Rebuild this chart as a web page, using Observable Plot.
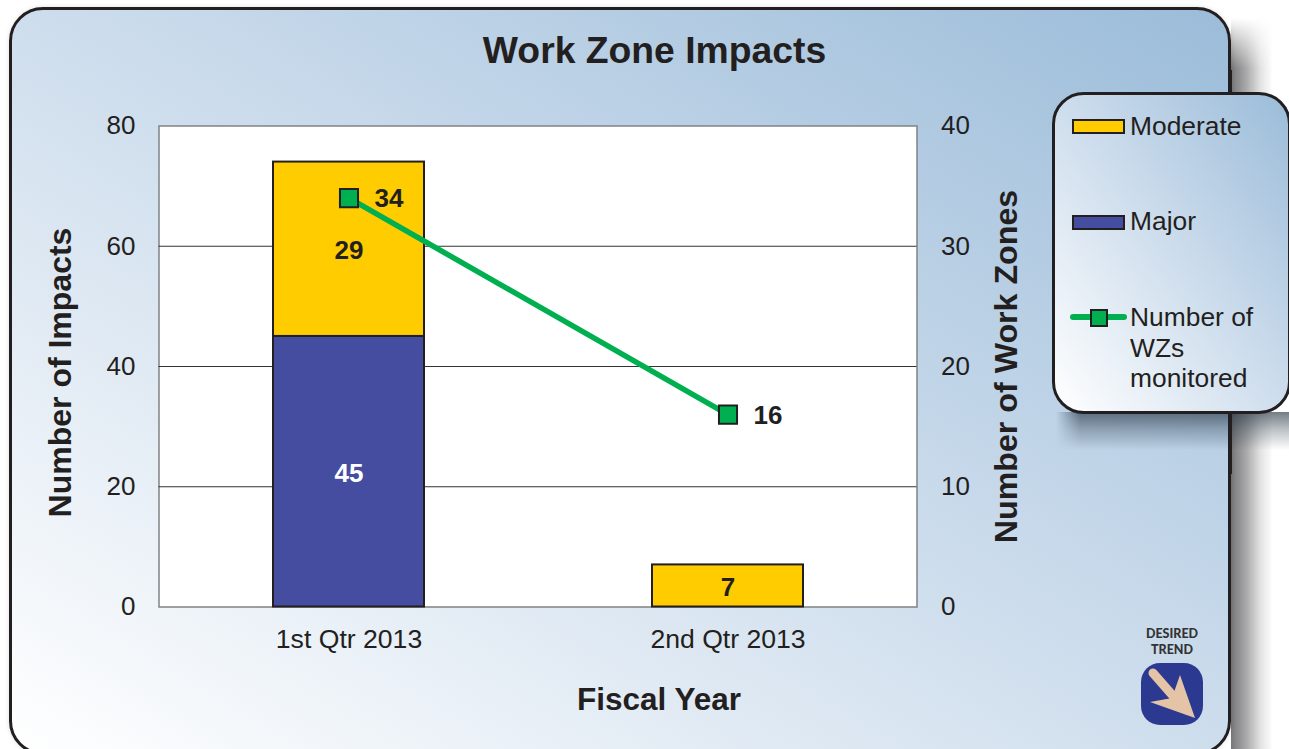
<!DOCTYPE html>
<html>
<head>
<meta charset="utf-8">
<script src="https://cdn.jsdelivr.net/npm/d3@7"></script>
<script src="https://cdn.jsdelivr.net/npm/@observablehq/plot@0.6"></script>
<style>
html,body{margin:0;padding:0;background:#fff;width:1289px;height:749px;overflow:hidden;font-family:"Liberation Sans",Arial,sans-serif;color:#231f20}
#stage{position:relative;width:1289px;height:749px;overflow:hidden}
#panel{position:absolute;left:9px;top:7px;width:1222px;height:748px;box-sizing:border-box;border:3px solid #231f20;border-radius:34px;
 background:linear-gradient(to top right,#ffffff 0%,#c9daeb 55%,#9bbcd9 100%);box-shadow:0 0 5px rgba(0,0,0,.12)}
#shadowR{position:absolute;left:1231px;top:18px;width:42px;height:731px;
 background:linear-gradient(to right,rgba(55,55,58,.68),rgba(55,55,58,.44) 35%,rgba(55,55,58,.14) 70%,rgba(55,55,58,0));
 -webkit-mask-image:linear-gradient(to bottom,transparent,#000 50px);mask-image:linear-gradient(to bottom,transparent,#000 50px)}
#edge{position:absolute;left:1228px;top:70px;width:4px;height:404px;background:#231f20}
#title{position:absolute;left:10px;top:28px;width:1289px;text-align:center;font-weight:bold;font-size:37.3px;line-height:44px}
#chart{position:absolute;left:0;top:0}
#shadowL{position:absolute;left:1056px;top:412px;width:233px;height:38px;
 background:linear-gradient(to bottom,rgba(30,45,60,.62),rgba(30,45,60,.3) 45%,rgba(30,45,60,0));
 -webkit-mask-image:linear-gradient(to right,transparent,#000 24px);mask-image:linear-gradient(to right,transparent,#000 24px)}
#legend{position:absolute;left:1052px;top:92px;width:239px;height:322px;box-sizing:border-box;border:3px solid #231f20;border-radius:32px;
 background:linear-gradient(to top right,#ffffff 0%,#c9daeb 55%,#9bbcd9 100%)}
.sw{position:absolute;left:1072px;width:53px;height:15px;box-sizing:border-box;border:2px solid #231f20}
.lt{position:absolute;left:1130px;font-size:26.4px;line-height:30.6px;white-space:pre}
#ln{position:absolute;left:1070px;top:314px;width:57px;height:6px;border-radius:3px;background:#00b050}
#lm{position:absolute;left:1090px;top:309px;width:18px;height:18px;box-sizing:border-box;border:2px solid #231f20;background:#00b050}
#trend{position:absolute;left:1122px;top:626px;width:100px;text-align:center;font-family:"Lato",sans-serif;font-weight:900;font-size:12.5px;line-height:16px;color:#333}
#icon{position:absolute;left:1141px;top:663px}
</style>
</head>
<body>
<div id="stage">
  <div id="shadowR"></div>
  <div id="panel"></div>
  <div id="chart"></div>
  <div id="title">Work Zone Impacts</div>
  <div id="shadowL"></div>
  <div id="legend"></div>
  <div id="edge" style="clip-path:polygon(0 0,100% 0,100% 22px,0 22px,0 344px,100% 344px,100% 100%,0 100%)"></div>
  <div class="sw" style="top:119px;background:#ffcc00"></div>
  <div class="lt" id="l1" style="top:111px"></div>
  <div class="sw" style="top:215px;background:#444da0"></div>
  <div class="lt" id="l2" style="top:206px"></div>
  <div id="ln"></div><div id="lm"></div>
  <div class="lt" id="l3" style="top:302px"></div>
  <div id="trend">DESIRED<br>TREND</div>
  <svg id="icon" width="62" height="62" viewBox="0 0 62 62">
    <rect width="62" height="62" rx="19" fill="#2b3990"/>
    <path d="M12 10 L33 34" stroke="#e5c3a6" stroke-width="9" stroke-linecap="round"/>
    <path d="M39 12 L54 55 L9 39 L31 35 Z" fill="#e5c3a6"/>
  </svg>
</div>
<script>
const quarters = ["1st Qtr 2013", "2nd Qtr 2013"];
const major = [45, 0];
const moderate = [29, 7];
const workZones = [34, 16];
const impactTicks = [0, 20, 40, 60, 80];
const gridTicks = [20, 40, 60];
const legendLabels = ["Moderate", "Major", "Number of\nWZs\nmonitored"];
const xTitle = ["Fiscal Year"];
const leftTitle = ["Number of Impacts"];

const INK = "#231f20";
const ZONE_SCALE = 2; // right axis 0-40 shares the left axis 0-80

const stacked = [];
quarters.forEach((q, i) => {
  if (major[i] > 0) stacked.push({q, type: "Major", value: major[i]});
  if (moderate[i] > 0) stacked.push({q, type: "Moderate", value: moderate[i]});
});
const zones = quarters.map((q, i) => ({q, value: workZones[i]}));

const chart = Plot.plot({
  width: 1289, height: 749,
  marginLeft: 158.5, marginRight: 372.5, marginTop: 125.5, marginBottom: 142.5,
  style: {background: "transparent", fontFamily: '"Liberation Sans",Arial,sans-serif', color: INK, overflow: "visible"},
  x: {domain: quarters, paddingInner: 0.602, paddingOuter: 0.301},
  y: {domain: [0, 80]},
  color: {domain: ["Moderate", "Major"], range: ["#ffcc00", "#444da0"]},
  marks: [
    Plot.frame({fill: "#fff", stroke: "#808285", strokeWidth: 1.5}),
    Plot.ruleY(gridTicks, {stroke: "#333", strokeWidth: 1.2}),
    Plot.axisY({anchor: "left", ticks: impactTicks, tickSize: 0, tickPadding: 23.5, fontSize: 26, label: null, fill: INK}),
    Plot.axisY({anchor: "right", ticks: impactTicks, tickSize: 0, tickPadding: 24, fontSize: 26, label: null, fill: INK,
      tickFormat: d => d / ZONE_SCALE}),
    Plot.axisX({anchor: "bottom", tickSize: 0, tickPadding: 22, fontSize: 26.6, label: null, fill: INK}),
    Plot.barY(stacked, Plot.stackY({x: "q", y: "value", fill: "type", order: ["Major", "Moderate"], stroke: INK, strokeWidth: 2})),
    Plot.text(stacked, Plot.stackY({x: "q", y: "value", text: d => String(d.value), order: ["Major", "Moderate"], dy: 1.5,
      fontSize: 26, fontWeight: "bold", fill: d => d.type === "Major" ? "#fff" : INK})),
    Plot.line(zones, {x: "q", y: d => d.value * ZONE_SCALE, stroke: "#00b050", strokeWidth: 5.5}),
    Plot.dot(zones, {x: "q", y: d => d.value * ZONE_SCALE, symbol: "square", r: 10.2, fill: "#00b050", stroke: INK, strokeWidth: 2}),
    Plot.text(zones, {x: "q", y: d => d.value * ZONE_SCALE, text: d => String(d.value), dx: 40, dy: 1, fontSize: 26, fontWeight: "bold", fill: INK}),
    Plot.text(leftTitle, {frameAnchor: "left", textAnchor: "middle", rotate: -90, dx: -98.5, dy: 6, fontSize: 32, fontWeight: "bold", fill: INK}),
    Plot.axisY({anchor: "right", ticks: [], label: "Number of Work Zones", labelAnchor: "center", labelArrow: "none", labelOffset: 100, fontSize: 32.2, fontWeight: "bold", fill: INK}),
    Plot.text(xTitle, {frameAnchor: "bottom", dx: 121, dy: 103, fontSize: 31.5, fontWeight: "bold", fill: INK})
  ]
});
document.getElementById("chart").appendChild(chart);
["l1","l2","l3"].forEach((id, i) => { document.getElementById(id).textContent = legendLabels[i]; });
</script>
</body>
</html>
